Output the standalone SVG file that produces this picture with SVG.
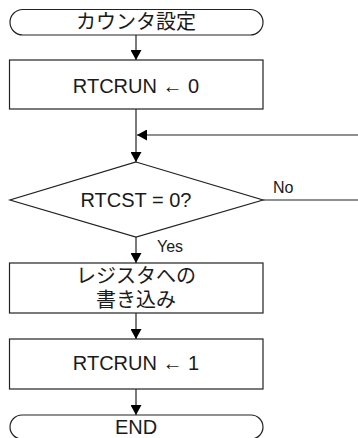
<svg xmlns="http://www.w3.org/2000/svg" width="358" height="438" viewBox="0 0 358 438">
<defs>
<marker id="ah" markerWidth="10" markerHeight="11" refX="10" refY="5.5" orient="auto" markerUnits="userSpaceOnUse">
<path d="M0,0 L10,5.5 L0,11 Z" fill="#000"/>
</marker>
<style>
.s{fill:#fff;stroke:#222;stroke-width:1.2}
.c{fill:none;stroke:#222;stroke-width:1.2}
.t{font-family:"Liberation Sans","Noto Sans CJK JP",sans-serif;font-size:20px;fill:#1a1a1a;text-anchor:middle;dominant-baseline:central}
.l{font-family:"Liberation Sans",sans-serif;font-size:16px;fill:#1a1a1a}
</style>
</defs>
<rect width="358" height="438" fill="#fff"/>
<g id="connectors">
<line class="c" x1="136" y1="35" x2="136" y2="60" marker-end="url(#ah)"/>
<line class="c" x1="136" y1="109" x2="136" y2="162" marker-end="url(#ah)"/>
<line class="c" x1="358" y1="135" x2="137" y2="135" marker-end="url(#ah)"/>
<line class="c" x1="263" y1="200" x2="358" y2="200"/>
<line class="c" x1="136" y1="237" x2="136" y2="263" marker-end="url(#ah)"/>
<line class="c" x1="136" y1="313" x2="136" y2="339" marker-end="url(#ah)"/>
<line class="c" x1="136" y1="389" x2="136" y2="415" marker-end="url(#ah)"/>
<text class="l" x="273" y="193">No</text>
<text class="l" x="157" y="252">Yes</text>
</g>
<g id="start">
<rect class="s" x="10" y="9.5" width="253" height="25.5" rx="12.75" ry="12.75"/>
<text class="t" x="136" y="22">カウンタ設定</text>
</g>
<g id="clear">
<rect class="s" x="9.5" y="60" width="253.5" height="49"/>
<text class="t" x="136" y="86">RTCRUN ← 0</text>
</g>
<g id="check">
<polygon class="s" points="136,162 263,200 136,237 10,200"/>
<text class="t" x="136" y="200">RTCST = 0?</text>
</g>
<g id="write">
<rect class="s" x="9.5" y="263" width="253.5" height="50"/>
<text class="t" x="136" y="276">レジスタへの</text>
<text class="t" x="136" y="300">書き込み</text>
</g>
<g id="set">
<rect class="s" x="9.5" y="339" width="253.5" height="50"/>
<text class="t" x="136" y="363">RTCRUN ← 1</text>
</g>
<g id="end">
<rect class="s" x="10" y="415" width="253" height="24" rx="12" ry="12"/>
<text class="t" x="136" y="427">END</text>
</g>
</svg>
